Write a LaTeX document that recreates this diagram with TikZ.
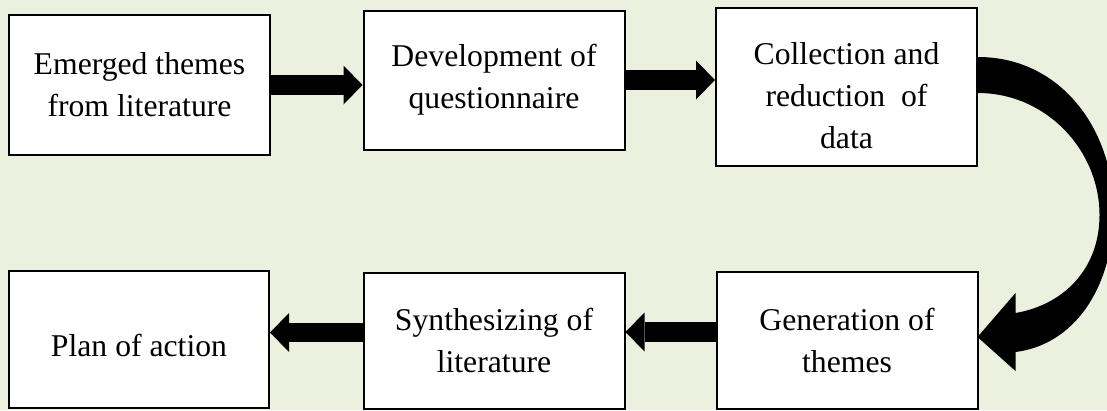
\documentclass[tikz,border=0pt]{standalone}
\usepackage{fontspec}
\setmainfont{Liberation Serif}
\usetikzlibrary{arrows.meta,calc}
\definecolor{pagebg}{HTML}{EBF1DE}
\begin{document}
\begin{tikzpicture}[x=1pt,y=-1pt,
  stepbox/.style={draw=black, line width=2pt, fill=white, inner sep=0pt,
    align=center, font=\fontsize{31.7}{42}\selectfont},
  blockarrow/.style={draw=black, line width=19.5pt,
    -{Triangle[width=39pt,length=19pt,line width=0pt]}}]
\useasboundingbox (0,0) rectangle (1107,410);
\fill[pagebg] (0,0) rectangle (1107,410);
\clip (0,0) rectangle (1107,410);

% process steps, top row left to right
\node[stepbox, minimum width=261pt, minimum height=140pt] (b1) at (139.5,85)
  {Emerged themes\\from literature};
\node[stepbox, minimum width=261pt, minimum height=139pt] (b2) at (494,80)
  {Development of\\questionnaire};
\node[stepbox, minimum width=261pt, minimum height=158pt] (b3) at (846.5,87)
  {\rule{0pt}{39.6pt}Collection and\\reduction\ \ of\\data};

% bottom row, right to left
\node[stepbox, minimum width=261pt, minimum height=137pt] (b4) at (847,340)
  {Generation of\\themes};
\node[stepbox, minimum width=261pt, minimum height=136pt] (b5) at (494,340.5)
  {Synthesizing of\\literature};
\node[stepbox, minimum width=260pt, minimum height=137pt] (b6) at (139,339.5)
  {\rule{0pt}{34.6pt}Plan of action};

% straight block arrows
\draw[blockarrow] (b1.east) -- (b1.east -| b2.west);
\draw[blockarrow] (b2.east) -- (b2.east -| b3.west);
\coordinate (a4) at ($(b4.west)+(0,-8)$);
\draw[blockarrow] (a4) -- (a4 -| b5.east);
\coordinate (a5) at ($(b5.west)+(0,-8)$);
\draw[blockarrow] (a5) -- (a5 -| b6.east);

% curved block arrow from the top row down to the bottom row
\coordinate (cs1) at ($(b3.east)+(0,-30)$);
\coordinate (cs2) at ($(b3.east)+(0,6)$);
\coordinate (ct) at ($(b4.east)+(-1,-3)$);
\fill[black] (cs1) .. controls +(83,0) and +(0,-80) .. ($(ct)+(136,-127)$)
  .. controls +(0,80) and +(57,-7) .. ($(ct)+(38,15)$)
  -- ($(ct)+(38,34)$) -- (ct) -- ($(ct)+(38,-44)$) -- ($(ct)+(38,-24)$)
  .. controls +(47,-8) and +(0,55) .. ($(ct)+(122,-122)$)
  .. controls +(0,-65) and +(68,0) .. (cs2) -- cycle;
\end{tikzpicture}
\end{document}
